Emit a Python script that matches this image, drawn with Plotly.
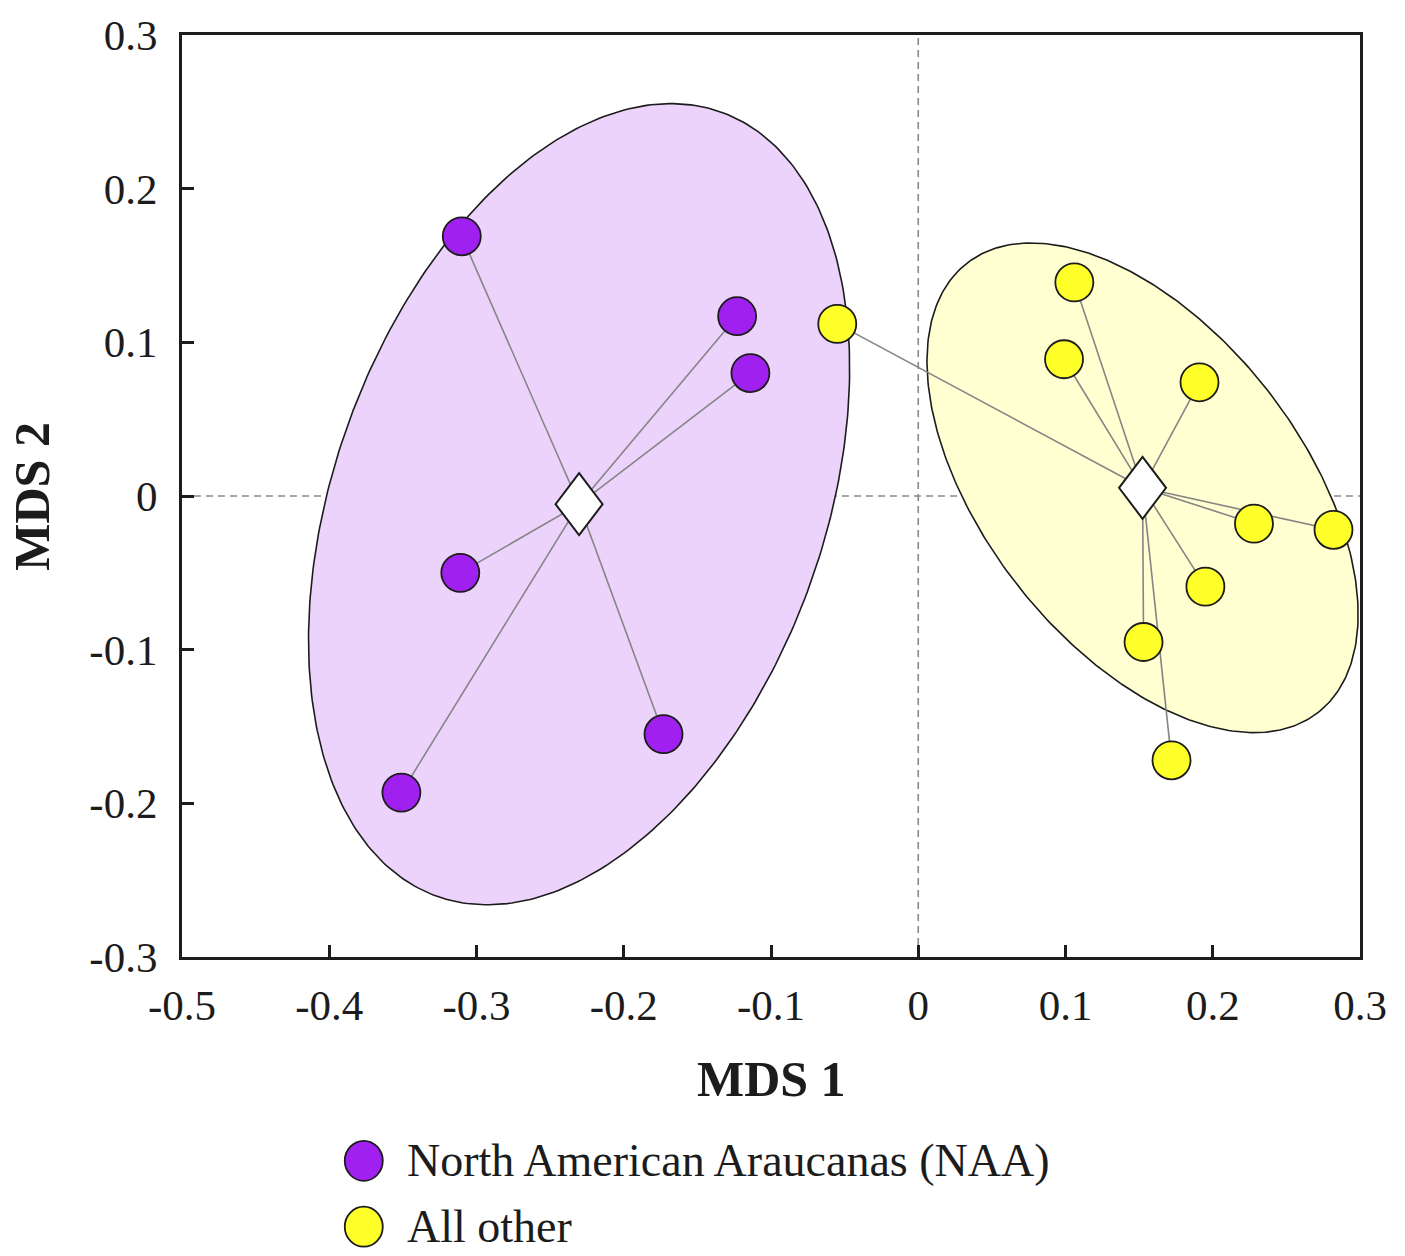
import numpy as np
import plotly.graph_objects as go

# ---------------- data ----------------
naa_x = [-0.310, -0.123, -0.114, -0.311, -0.173, -0.351]
naa_y = [0.169, 0.117, 0.080, -0.050, -0.155, -0.193]

other_x = [-0.055, 0.106, 0.099, 0.191, 0.228, 0.282, 0.195, 0.153, 0.172]
other_y = [0.112, 0.139, 0.089, 0.074, -0.018, -0.022, -0.059, -0.095, -0.172]

group_names = ["North American Araucanas (NAA)", "All other"]
group_colors = ["#A020F0", "#FFFF2A"]
ellipse_fills = ["#ECD3FB", "#FFFFD2"]
ellipse_scale = [1.74, 1.52]   # multiplier of the covariance (sd) ellipse

x_ticks = [-0.5, -0.4, -0.3, -0.2, -0.1, 0, 0.1, 0.2, 0.3]
x_ticktext = ["-0.5", "-0.4", "-0.3", "-0.2", "-0.1", "0", "0.1", "0.2", "0.3"]
y_ticks = [-0.3, -0.2, -0.1, 0, 0.1, 0.2, 0.3]
y_ticktext = ["-0.3", "-0.2", "-0.1", "0", "0.1", "0.2", "0.3"]

FONT = "Liberation Serif, Times New Roman, serif"
INK = "#1c1c1c"

groups = [(np.array(naa_x), np.array(naa_y)), (np.array(other_x), np.array(other_y))]

fig = go.Figure()

# ellipses (covariance ellipses around group centroids)
t = np.linspace(0, 2 * np.pi, 361)
centroids = []
for (gx, gy), fillc, k in zip(groups, ellipse_fills, ellipse_scale):
    cx, cy = gx.mean(), gy.mean()
    centroids.append((cx, cy))
    cov = np.cov(np.vstack([gx, gy]))
    vals, vecs = np.linalg.eigh(cov)
    circ = np.vstack([np.cos(t), np.sin(t)])
    pts = vecs @ (np.sqrt(vals)[:, None] * circ) * k
    fig.add_trace(go.Scatter(
        x=cx + pts[0], y=cy + pts[1], mode="lines", fill="toself",
        fillcolor=fillc, line=dict(color=INK, width=1.6),
        hoverinfo="skip", showlegend=False))

# spider lines
for (gx, gy), (cx, cy) in zip(groups, centroids):
    lx, ly = [], []
    for xi, yi in zip(gx, gy):
        lx += [cx, xi, None]
        ly += [cy, yi, None]
    fig.add_trace(go.Scatter(x=lx, y=ly, mode="lines",
                             line=dict(color="#858585", width=1.6),
                             hoverinfo="skip", showlegend=False))

# points
for (gx, gy), col, name in zip(groups, group_colors, group_names):
    fig.add_trace(go.Scatter(
        x=gx, y=gy, mode="markers", name=name, showlegend=False,
        marker=dict(size=38, color=col, line=dict(color=INK, width=1.8))))

shapes = []
# dashed zero lines
shapes.append(dict(type="line", xref="x", yref="paper", x0=0, x1=0, y0=0, y1=1,
                   line=dict(color="#8a8a8a", width=1.6, dash="7px,5px"), layer="below"))
shapes.append(dict(type="line", xref="paper", yref="y", x0=0, x1=1, y0=0, y1=0,
                   line=dict(color="#8a8a8a", width=1.6, dash="7px,5px"), layer="below"))
# centroid diamonds
for cx, cy in centroids:
    shapes.append(dict(type="path", xref="x", yref="y", xsizemode="pixel", ysizemode="pixel",
                       xanchor=cx, yanchor=cy,
                       path="M0,31 L23.5,0 L0,-31 L-23.5,0 Z",
                       fillcolor="white", line=dict(color=INK, width=2), layer="above"))

# legend (drawn manually)
leg_y = [-0.2211, -0.2925]
annotations = []
for col, name, ly in zip(group_colors, group_names, leg_y):
    shapes.append(dict(type="circle", xref="paper", yref="paper",
                       xsizemode="pixel", ysizemode="pixel",
                       xanchor=0.1543, yanchor=ly, x0=-19, x1=19, y0=-20, y1=20,
                       fillcolor=col, line=dict(color=INK, width=1.8)))
    annotations.append(dict(xref="paper", yref="paper", x=0.1891, y=ly,
                            xanchor="left", yanchor="middle", showarrow=False,
                            text=name, font=dict(family=FONT, size=46, color=INK)))

annotations.append(dict(xref="paper", yref="paper", x=0.5, y=-0.1328,
                        xanchor="center", yanchor="middle", showarrow=False,
                        text="<b>MDS 1</b>", font=dict(family=FONT, size=50, color=INK)))
annotations.append(dict(xref="paper", yref="paper", x=-0.1276, y=0.5,
                        xanchor="center", yanchor="middle", showarrow=False, textangle=-90,
                        text="<b>MDS 2</b>", font=dict(family=FONT, size=50, color=INK)))

axis_common = dict(showgrid=False, zeroline=False, showline=True, mirror=True,
                   linecolor=INK, linewidth=3, ticks="inside", ticklen=12,
                   tickwidth=3, tickcolor=INK,
                   tickfont=dict(family=FONT, size=43, color=INK))

fig.update_layout(
    width=1405, height=1256,
    margin=dict(l=182, r=45, t=28, b=299, pad=0),
    plot_bgcolor="white", paper_bgcolor="white",
    xaxis=dict(range=[-0.5, 0.3], tickvals=x_ticks, ticktext=x_ticktext,
               ticklabelstandoff=8, **axis_common),
    yaxis=dict(range=[-0.3, 0.3], tickvals=y_ticks, ticktext=y_ticktext,
               ticklabelstandoff=13, **axis_common),
    shapes=shapes, annotations=annotations, showlegend=False,
)

fig.write_html("out.html", config={"displayModeBar": False},
               post_script="document.body.style.margin='0px';document.body.style.overflow='hidden';")
